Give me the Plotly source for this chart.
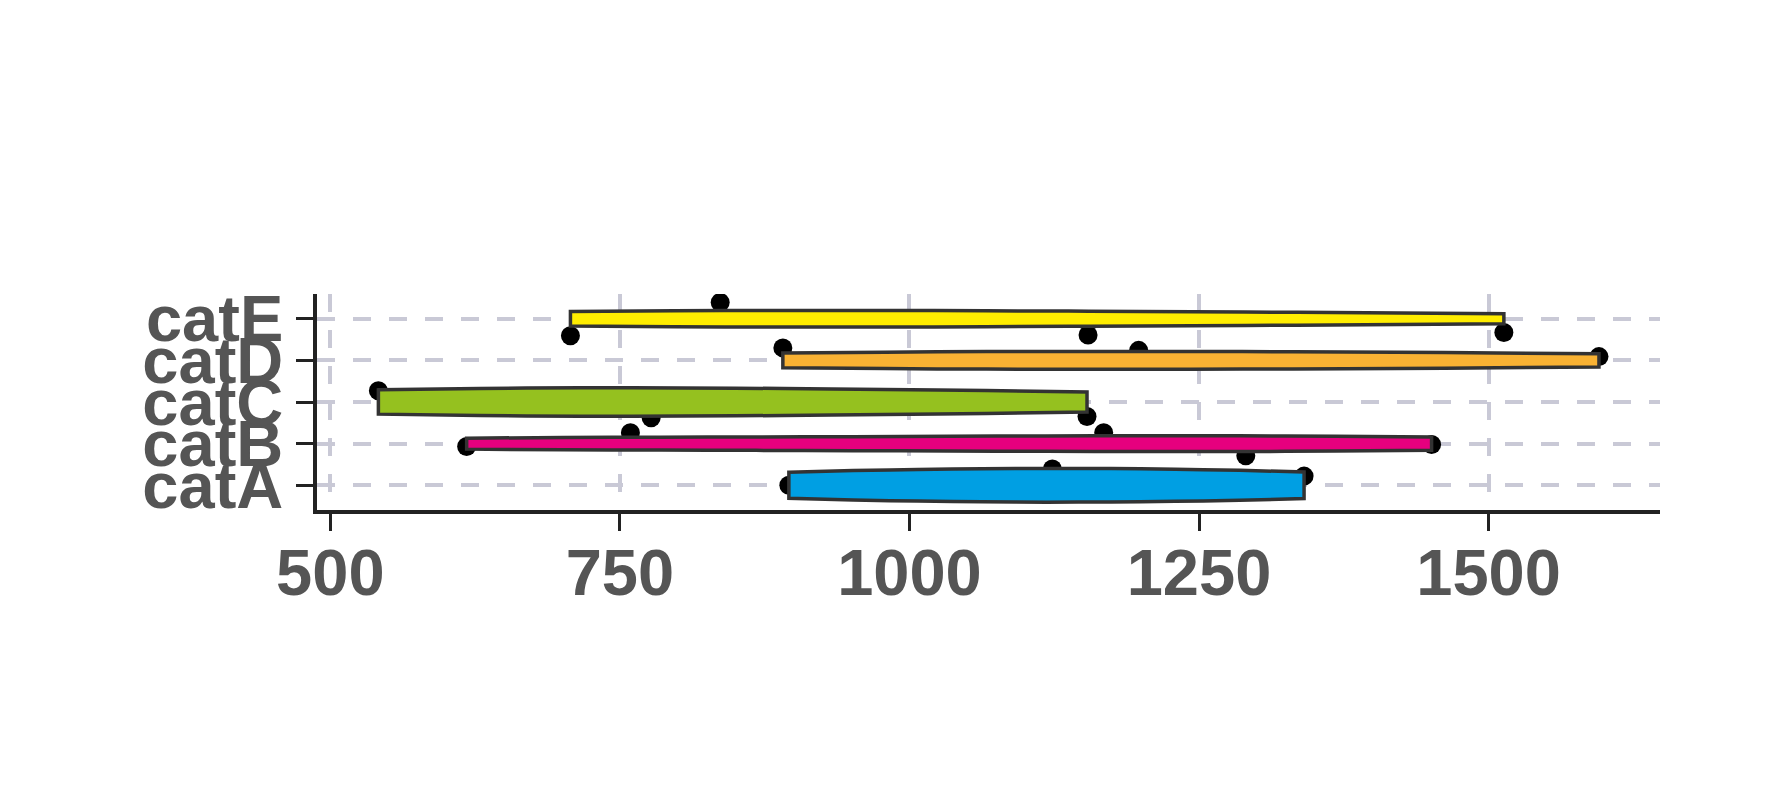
import plotly.graph_objects as go

categories = ["catA", "catB", "catC", "catD", "catE"]
cat_values = {
    "catA": [895.9, 1123.4, 1340.7],
    "catB": [617.7, 759.1, 1167.7, 1290.4, 1450.8],
    "catC": [541.5, 777.0, 1153.3],
    "catD": [890.7, 1197.9, 1595.3],
    "catE": [707.3, 836.6, 1154.2, 1513.2],
}
# vertical jitter of each point (in category units)
cat_jitter = {
    "catA": [0.0, 0.39, 0.22],
    "catB": [-0.07, 0.26, 0.26, -0.29, -0.02],
    "catC": [0.27, -0.38, -0.35],
    "catD": [0.30, 0.24, 0.09],
    "catE": [-0.41, 0.39, -0.39, -0.33],
}
x_ticks = [500, 750, 1000, 1250, 1500]

fill_colors = {"catA": "#009FE3", "catB": "#E6007E", "catC": "#95C11F",
               "catD": "#F9B233", "catE": "#FFED00"}
violin_widths = {"catA": 0.81, "catB": 0.38, "catC": 0.68, "catD": 0.43, "catE": 0.40}

fig = go.Figure()

# points (base axes, drawn behind the violins)
for i, c in enumerate(categories):
    fig.add_trace(go.Scatter(
        x=cat_values[c], y=[i + j for j in cat_jitter[c]],
        mode="markers", marker=dict(color="black", size=19),
        xaxis="x", yaxis="y", showlegend=False, hoverinfo="x"))

# violins (overlay axes, drawn on top)
for i, c in enumerate(categories):
    fig.add_trace(go.Violin(
        x=cat_values[c], y0=i, name=c, orientation="h",
        fillcolor=fill_colors[c], opacity=1,
        line=dict(color="#333333", width=3.5),
        points=False, box_visible=False, meanline_visible=False,
        spanmode="hard", width=violin_widths[c],
        xaxis="x2", yaxis="y2", showlegend=False))

xr = [488.5, 1648]
yr = [-0.594, 4.594]
tick_font = dict(family="Liberation Sans, Arial, sans-serif", size=65,
                 color="#555555", weight="bold")
grid = dict(gridcolor="#C9C9D6", gridwidth=3.5, griddash="18px,18px")

fig.update_layout(
    width=1778, height=809,
    margin=dict(l=317, r=118, t=294, b=299),
    paper_bgcolor="white", plot_bgcolor="white",
    showlegend=False,
    xaxis=dict(range=xr, tickvals=x_ticks, ticktext=[str(v) for v in x_ticks],
               showline=True, linecolor="#222222", linewidth=3.5,
               ticks="outside", ticklen=17, tickwidth=3, tickcolor="#222222",
               tickfont=tick_font, ticklabelstandoff=-14,
               showgrid=True, zeroline=False, **grid),
    yaxis=dict(range=yr, tickvals=list(range(len(categories))), ticktext=categories,
               showline=True, linecolor="#222222", linewidth=3.5,
               ticks="outside", ticklen=17, tickwidth=3, tickcolor="#222222",
               tickfont=tick_font, showgrid=True, zeroline=False, **grid),
    xaxis2=dict(range=xr, overlaying="x", visible=False, showgrid=False),
    yaxis2=dict(range=yr, overlaying="y", visible=False, showgrid=False),
)

fig.write_html("out.html")
